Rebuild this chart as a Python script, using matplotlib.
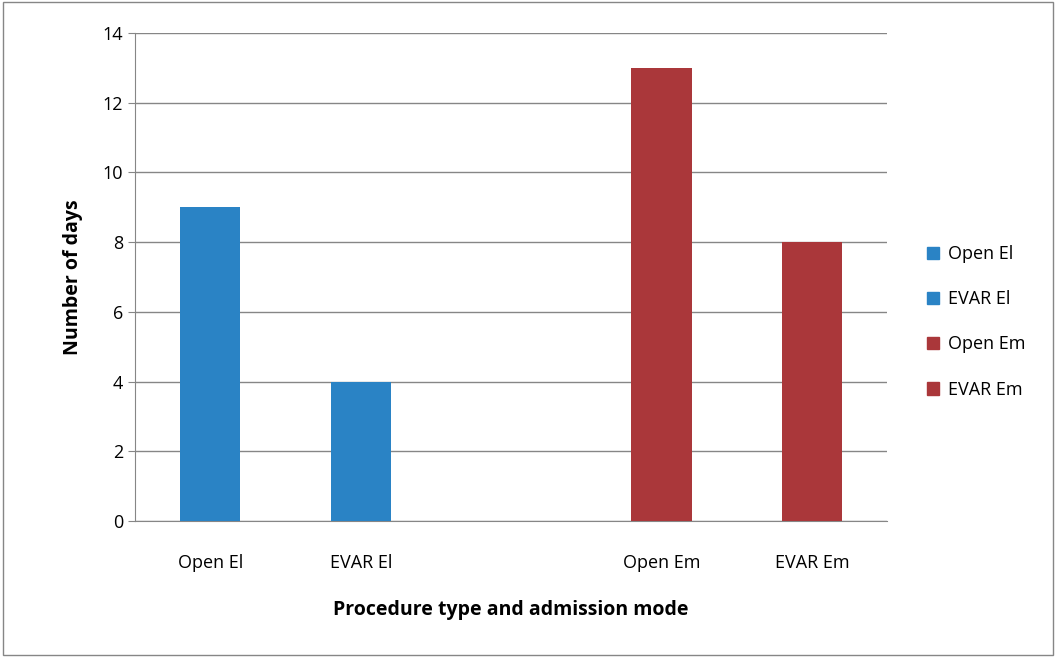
import matplotlib.pyplot as plt
from matplotlib.patches import Rectangle, Patch

categories = ["Open El", "EVAR El", "", "Open Em", "EVAR Em"]
days = [9, 4, 0, 13, 8]
bar_colors = ["#2A83C5", "#2A83C5", "none", "#AA373A", "#AA373A"]
legend_labels = ["Open El", "EVAR El", "Open Em", "EVAR Em"]
legend_colors = ["#2A83C5", "#2A83C5", "#AA373A", "#AA373A"]

plt.rcParams["font.family"] = ["Open Sans", "DejaVu Sans"]

fig = plt.figure(figsize=(10.56, 6.57), dpi=100)
ax = fig.add_axes([0.128, 0.207, 0.712, 0.743])

x = range(len(categories))
ax.bar(x, days, width=0.4, color=bar_colors, zorder=3)
ax.set_xlim(-0.5, 4.5)
ax.set_ylim(0, 14)
ax.set_yticks(range(0, 15, 2))
ax.set_xticks(list(x))
ax.set_xticklabels(categories, fontsize=13)
ax.tick_params(axis="y", labelsize=13, length=5, color="#868686")
ax.tick_params(axis="x", length=0, pad=24)
ax.grid(axis="y", color="#868686", linewidth=1, zorder=0)
for s in ["top", "right"]:
    ax.spines[s].set_visible(False)
ax.spines["left"].set_color("#868686")
ax.spines["bottom"].set_color("#868686")

ax.set_ylabel("Number of days", fontsize=14, fontweight="bold", labelpad=14)
ax.set_xlabel("Procedure type and admission mode", fontsize=14, fontweight="bold", labelpad=20)

handles = [Patch(color=c, label=l) for c, l in zip(legend_colors, legend_labels)]
fig.legend(handles=handles, loc="center left", bbox_to_anchor=(0.862, 0.51),
           frameon=False, fontsize=13, handlelength=0.7, handleheight=0.7,
           labelspacing=1.5, handletextpad=0.5)

fig.add_artist(Rectangle((0.003, 0.003), 0.994, 0.994, transform=fig.transFigure,
                         fill=False, edgecolor="#868686", linewidth=1))

fig.savefig("out.png", dpi=100)
